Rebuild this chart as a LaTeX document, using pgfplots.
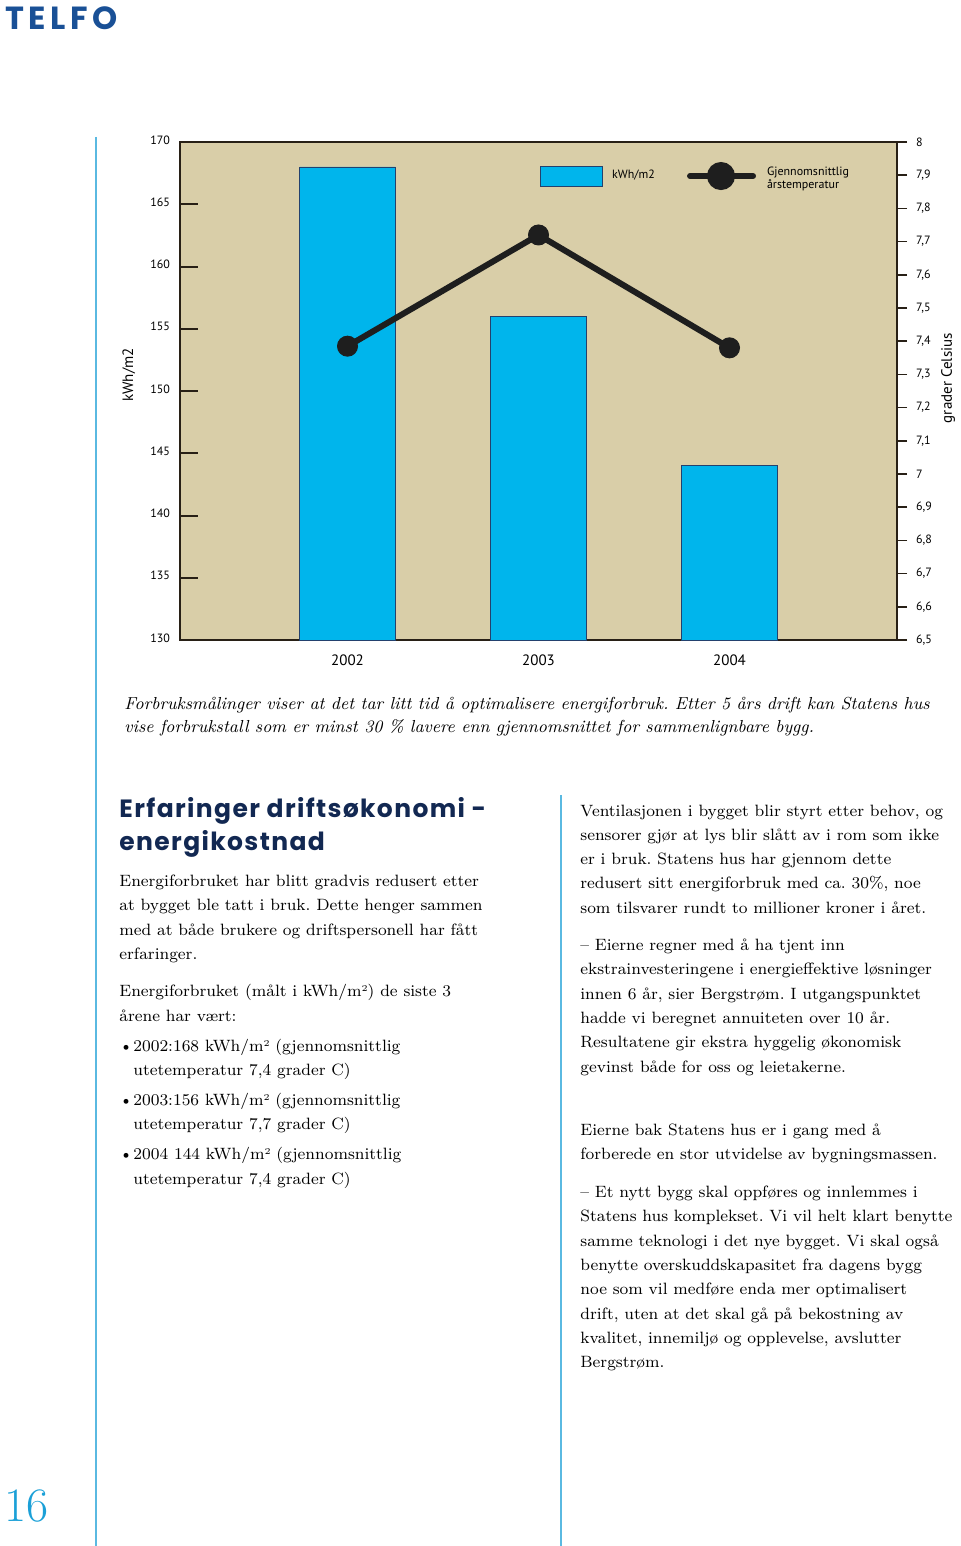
\documentclass[border=0pt]{standalone}
\usepackage{fontspec}
\usepackage{pgfplots}
\pgfplotsset{compat=1.18}
\newfontfamily\chartfont{PT Sans}
\newfontfamily\headfont{Poppins}
\newfontfamily\headfontls{Poppins}[LetterSpace=5.5]
\newfontfamily\logofont{Poppins}[LetterSpace=14.0]
\definecolor{bgtan}{RGB}{217,206,168}
\definecolor{barcyan}{RGB}{0,181,236}
\definecolor{baredge}{RGB}{35,65,110}
\definecolor{axisdark}{RGB}{40,32,22}
\definecolor{linedark}{RGB}{30,30,30}
\definecolor{rulecyan}{RGB}{90,185,225}
\definecolor{headnavy}{RGB}{18,40,82}
\definecolor{logoblue}{RGB}{25,80,150}
\definecolor{pagecyan}{RGB}{27,160,215}
\frenchspacing
\newcommand\bodyfont{\fontsize{8.2}{10}\selectfont\frenchspacing}
\newcommand\capfont{\fontsize{8.7}{10}\selectfont\itshape\frenchspacing}
\newcommand\Lb[3]{\node[anchor=base west,inner sep=0pt,font=\bodyfont] at (#1,#2) {#3};}
\newcommand\Lc[3]{\node[anchor=base west,inner sep=0pt,font=\capfont] at (#1,#2) {#3};}
\newcommand\sq{\raisebox{2.2pt}{\fontsize{4.5}{5}\selectfont 2}}
\begin{document}
\begin{tikzpicture}[x=0.5pt,y=-0.5pt]
\path[use as bounding box] (0,0) rectangle (960,1546);
% logo
\node[anchor=base west,inner sep=0pt,text=logoblue,font=\logofont\bfseries\fontsize{16}{16}\selectfont] at (5,30) {TELFO};
% rules
\draw[rulecyan,line width=0.75pt] (96,137) -- (96,1546);
\draw[rulecyan,line width=0.75pt] (561,795) -- (561,1546);
% page number
\node[anchor=base west,inner sep=0pt,text=pagecyan,font=\fontsize{24}{24}\selectfont] at (4,1521) {16};

\begin{axis}[
  at={(90pt,-320pt)}, anchor=south west, scale only axis,
  width=358.5pt, height=249pt,
  xmin=-0.877, xmax=2.877, ymin=130, ymax=170,
  xtick={0,1,2}, xticklabels={2002,2003,2004},
  ytick={130,135,...,170},
  ytick pos=left, tick align=inside, major tick length=9pt,
  major tick style={axisdark,line width=1pt},
  major x tick style={draw=none},
  axis line style={axisdark,line width=1pt},
  axis background/.style={fill=bgtan},
  /pgf/number format/assume math mode=true,
  yticklabel style={font=\chartfont\fontsize{6}{7}\selectfont,xshift=-1.5pt,yshift=1pt},
  xticklabel style={font=\chartfont\fontsize{7.5}{9}\selectfont,yshift=-4pt},
  ylabel={kWh/m2},
  ylabel style={font=\chartfont\fontsize{7.5}{9}\selectfont,at={(axis description cs:-0.0715,0.532)},anchor=center},
]
\addplot[ybar,bar width=0.5,fill=barcyan,draw=baredge,line width=0.4pt] coordinates {(0,168) (1,156) (2,144)};
\end{axis}

\begin{axis}[
  at={(90pt,-320pt)}, anchor=south west, scale only axis,
  width=358.5pt, height=249pt,
  xmin=-0.877, xmax=2.877, ymin=6.5, ymax=8,
  axis x line=none, axis y line*=right,
  ytick={6.5,6.6,6.7,6.8,6.9,7,7.1,7.2,7.3,7.4,7.5,7.6,7.7,7.8,7.9,8},
  /pgf/number format/use comma,
  /pgf/number format/assume math mode=true,
  tick align=outside, major tick length=5pt,
  major tick style={axisdark,line width=0.8pt},
  axis line style={axisdark,line width=1pt},
  yticklabel style={font=\chartfont\fontsize{6}{7}\selectfont,xshift=1pt},
  ylabel={grader Celsius},
  ylabel style={font=\chartfont\fontsize{7.5}{9}\selectfont,at={(axis description cs:1.0711,0.526)},anchor=center},
  legend style={at={(axis description cs:0.502,0.9317)},anchor=west,draw=none,fill=none,inner sep=0pt,
    legend columns=2,
    nodes={inner sep=0pt,font=\chartfont\fontsize{6}{6.5}\selectfont},
    /tikz/every even column/.append style={column sep=16pt}},
]
\addlegendimage{legend image code/.code={\fill[barcyan,draw=baredge,line width=0.5pt] (0pt,-5pt) rectangle (31pt,5pt); \path (35.5pt,0pt);}}
\addlegendentry{kWh/m2}
\addplot[linedark,line width=3pt,mark=*,mark size=5pt,mark options={fill=linedark,line width=0.5pt},
  legend image code/.code={\draw[linedark,line width=3pt,line cap=round] (1.5pt,0pt) -- (33pt,0pt); \fill[linedark] (17pt,0pt) circle (5.5pt); \path (38.5pt,0pt);}]
  coordinates {(0,7.385) (1,7.72) (2,7.38)};
\addlegendentry{\begin{tabular}{@{}l@{}}Gjennomsnittlig\\årstemperatur\end{tabular}}
\end{axis}

% caption
\Lc{124}{709}{Forbruksmålinger viser at det tar litt tid å optimalisere energiforbruk. Etter 5 års drift kan Statens hus}
\Lc{124}{732}{vise forbrukstall som er minst 30 \% lavere enn gjennomsnittet for sammenlignbare bygg.}

% heading
\node[anchor=base west,inner sep=0pt,text=headnavy,font=\headfontls\bfseries\fontsize{12.5}{13}\selectfont] at (119,817) {Erfaringer driftsøkonomi -};
\node[anchor=base west,inner sep=0pt,text=headnavy,font=\headfontls\bfseries\fontsize{12.5}{13}\selectfont] at (119,850) {energikostnad};

% left column
\Lb{119}{886}{Energiforbruket har blitt gradvis redusert etter}
\Lb{119}{910}{at bygget ble tatt i bruk. Dette henger sammen}
\Lb{119}{935}{med at både brukere og driftspersonell har fått}
\Lb{119}{959}{erfaringer.}
\Lb{119}{996}{Energiforbruket (målt i kWh/m\sq) de siste 3}
\Lb{119}{1021}{årene har vært:}
\Lb{119}{1051}{\textbullet}\Lb{133}{1051}{2002:168 kWh/m\sq\ (gjennomsnittlig}
\Lb{133}{1075}{utetemperatur 7,4 grader C)}
\Lb{119}{1105}{\textbullet}\Lb{133}{1105}{2003:156 kWh/m\sq\ (gjennomsnittlig}
\Lb{133}{1129}{utetemperatur 7,7 grader C)}
\Lb{119}{1159}{\textbullet}\Lb{133}{1159}{2004 144 kWh/m\sq\ (gjennomsnittlig}
\Lb{133}{1184}{utetemperatur 7,4 grader C)}

% right column
\Lb{580}{816}{Ventilasjonen i bygget blir styrt etter behov, og}
\Lb{580}{840}{sensorer gjør at lys blir slått av i rom som ikke}
\Lb{580}{864}{er i bruk. Statens hus har gjennom dette}
\Lb{580}{888}{redusert sitt energiforbruk med ca. 30\%, noe}
\Lb{580}{913}{som tilsvarer rundt to millioner kroner i året.}
\Lb{580}{950}{– Eierne regner med å ha tjent inn}
\Lb{580}{974}{ekstrainvesteringene i energieffektive løsninger}
\Lb{580}{999}{innen 6 år, sier Bergstrøm. I utgangspunktet}
\Lb{580}{1023}{hadde vi beregnet annuiteten over 10 år.}
\Lb{580}{1047}{Resultatene gir ekstra hyggelig økonomisk}
\Lb{580}{1072}{gevinst både for oss og leietakerne.}
\Lb{580}{1135}{Eierne bak Statens hus er i gang med å}
\Lb{580}{1159}{forberede en stor utvidelse av bygningsmassen.}
\Lb{580}{1197}{– Et nytt bygg skal oppføres og innlemmes i}
\Lb{580}{1221}{Statens hus komplekset. Vi vil helt klart benytte}
\Lb{580}{1246}{samme teknologi i det nye bygget. Vi skal også}
\Lb{580}{1270}{benytte overskuddskapasitet fra dagens bygg}
\Lb{580}{1294}{noe som vil medføre enda mer optimalisert}
\Lb{580}{1319}{drift, uten at det skal gå på bekostning av}
\Lb{580}{1343}{kvalitet, innemiljø og opplevelse, avslutter}
\Lb{580}{1367}{Bergstrøm.}
\end{tikzpicture}
\end{document}
